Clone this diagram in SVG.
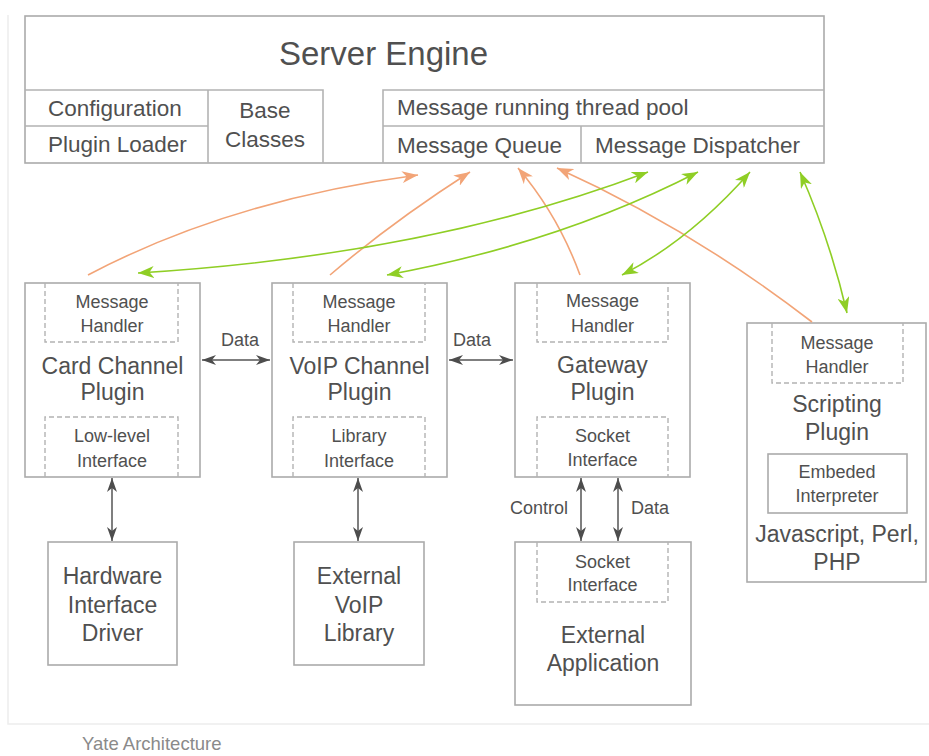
<svg xmlns="http://www.w3.org/2000/svg" width="929" height="756" viewBox="0 0 929 756">
  <style>
    text { font-family: "Liberation Sans", Arial, sans-serif; fill: #505050; }
    .title { font-size: 33px; text-anchor: middle; }
    .row { font-size: 22.5px; }
    .mid { text-anchor: middle; }
    .big { font-size: 23px; text-anchor: middle; }
    .small { font-size: 18px; text-anchor: middle; }
    .lbl { font-size: 18px; }
    .caption { font-size: 18.5px; fill: #8a8a8a; }
    .box { fill: #fff; stroke: #ababab; stroke-width: 1.6; }
    .rule { fill: none; stroke: #b3b3b3; stroke-width: 1.6; }
    .dash { fill: none; stroke: #b3b3b3; stroke-width: 1.4; stroke-dasharray: 5 3; }
    .frame { fill: none; stroke: #ededed; stroke-width: 1.5; }
    .gray { fill: none; stroke: #555; stroke-width: 1.5; marker-start: url(#ah-gray); marker-end: url(#ah-gray); }
    .orange { fill: none; stroke: #f2a477; stroke-width: 1.6; marker-end: url(#ah-orange); }
    .green { fill: none; stroke: #8fce25; stroke-width: 1.6; marker-start: url(#ah-green); marker-end: url(#ah-green); }
  </style>
  <defs>
    <marker id="ah-gray" viewBox="0 0 14 10" refX="14" refY="5" markerWidth="14" markerHeight="10" markerUnits="userSpaceOnUse" orient="auto-start-reverse">
      <path d="M0,0 L14,5 L0,10 L4,5 z" fill="#4d4d4d"/>
    </marker>
    <marker id="ah-orange" viewBox="0 0 16 12" refX="16" refY="6" markerWidth="16" markerHeight="12" markerUnits="userSpaceOnUse" orient="auto-start-reverse">
      <path d="M0,0 L16,6 L0,12 L4.5,6 z" fill="#f2a477"/>
    </marker>
    <marker id="ah-green" viewBox="0 0 16 12" refX="16" refY="6" markerWidth="16" markerHeight="12" markerUnits="userSpaceOnUse" orient="auto-start-reverse">
      <path d="M0,0 L16,6 L0,12 L4.5,6 z" fill="#8fce25"/>
    </marker>
  </defs>

  <rect width="929" height="756" fill="#fff"/>
  <!-- page frame and caption -->
  <path class="frame" d="M8,15 V724 H929"/>
  <text class="caption" x="82" y="750">Yate Architecture</text>

  <!-- Server Engine -->
  <g id="server-engine">
    <rect class="box" x="25" y="16" width="799" height="147"/>
    <path class="rule" d="M25,90 H323 V163 M208,90 V163 M25,126 H208"/>
    <path class="rule" d="M383,163 V90 H824 M383,126 H824 M581,126 V163"/>
    <text class="title" x="383.5" y="65">Server Engine</text>
    <text class="row" x="48" y="116">Configuration</text>
    <text class="row" x="48" y="152">Plugin Loader</text>
    <text class="row mid" x="265" y="118">Base</text>
    <text class="row mid" x="265" y="147">Classes</text>
    <text class="row" x="397" y="115">Message running thread pool</text>
    <text class="row" x="397" y="153">Message Queue</text>
    <text class="row" x="595" y="153">Message Dispatcher</text>
  </g>

  <!-- Card Channel Plugin -->
  <g id="card-channel">
    <rect class="box" x="25" y="283" width="175" height="194"/>
    <path class="dash" d="M45,283 V342 H178 V283 M45,477 V417 H178 V477"/>
    <text class="small" x="112" y="308">Message</text>
    <text class="small" x="112" y="332">Handler</text>
    <text class="big" x="112.5" y="374">Card Channel</text>
    <text class="big" x="112.5" y="400">Plugin</text>
    <text class="small" x="112" y="442">Low-level</text>
    <text class="small" x="112" y="467">Interface</text>
  </g>

  <!-- VoIP Channel Plugin -->
  <g id="voip-channel">
    <rect class="box" x="272" y="283" width="175" height="194"/>
    <path class="dash" d="M293,283 V342 H425 V283 M293,477 V417 H425 V477"/>
    <text class="small" x="359" y="308">Message</text>
    <text class="small" x="359" y="332">Handler</text>
    <text class="big" x="359.5" y="374">VoIP Channel</text>
    <text class="big" x="359.5" y="400">Plugin</text>
    <text class="small" x="359" y="442">Library</text>
    <text class="small" x="359" y="467">Interface</text>
  </g>

  <!-- Gateway Plugin -->
  <g id="gateway">
    <rect class="box" x="515" y="283" width="175" height="194"/>
    <path class="dash" d="M537,283 V342 H668 V283 M537,477 V417 H668 V477"/>
    <text class="small" x="602.5" y="307">Message</text>
    <text class="small" x="602.5" y="332">Handler</text>
    <text class="big" x="602.5" y="373">Gateway</text>
    <text class="big" x="602.5" y="400">Plugin</text>
    <text class="small" x="602.5" y="442">Socket</text>
    <text class="small" x="602.5" y="466">Interface</text>
  </g>

  <!-- Scripting Plugin -->
  <g id="scripting">
    <rect class="box" x="747" y="323" width="179" height="259"/>
    <path class="dash" d="M772,323 V383 H903 V323"/>
    <rect class="box" x="768" y="454" width="139" height="59"/>
    <text class="small" x="837" y="349">Message</text>
    <text class="small" x="837" y="373">Handler</text>
    <text class="big" x="837" y="412">Scripting</text>
    <text class="big" x="837" y="440">Plugin</text>
    <text class="small" x="837" y="478">Embeded</text>
    <text class="small" x="837" y="502">Interpreter</text>
    <text class="big" x="837" y="542">Javascript, Perl,</text>
    <text class="big" x="837" y="570">PHP</text>
  </g>

  <!-- Hardware Interface Driver -->
  <g id="hardware-driver">
    <rect class="box" x="48" y="542" width="129" height="123"/>
    <text class="big" x="112.5" y="584">Hardware</text>
    <text class="big" x="112.5" y="612.5">Interface</text>
    <text class="big" x="112.5" y="641">Driver</text>
  </g>

  <!-- External VoIP Library -->
  <g id="voip-library">
    <rect class="box" x="294" y="542" width="130" height="123"/>
    <text class="big" x="359" y="584">External</text>
    <text class="big" x="359" y="612.5">VoIP</text>
    <text class="big" x="359" y="641">Library</text>
  </g>

  <!-- External Application -->
  <g id="external-app">
    <rect class="box" x="515" y="542" width="176" height="163"/>
    <path class="dash" d="M537,542 V602 H668 V542"/>
    <text class="small" x="602.5" y="568">Socket</text>
    <text class="small" x="602.5" y="591">Interface</text>
    <text class="big" x="603" y="643">External</text>
    <text class="big" x="603" y="671">Application</text>
  </g>

  <!-- Connectors -->
  <g id="connectors">
    <!-- plugins post messages to the queue -->
    <path class="orange" d="M88,275 Q230,200 418,175"/>
    <path class="orange" d="M330,275 Q392,222 470,172"/>
    <path class="orange" d="M580,275 Q558,215 518,168"/>
    <path class="orange" d="M812,322 Q690,228 557,168"/>
    <!-- dispatcher delivers to the message handlers -->
    <path class="green" d="M138,273 Q430,255 648,172"/>
    <path class="green" d="M387,275 Q560,243 698,172"/>
    <path class="green" d="M622,275 Q690,240 750,172"/>
    <path class="green" d="M847,313 Q830,240 800,172"/>
    <!-- data paths between plugins -->
    <path class="gray" d="M202,360 H270"/>
    <path class="gray" d="M449,360 H513"/>
    <!-- links to external components -->
    <path class="gray" d="M112,478 V541"/>
    <path class="gray" d="M358,478 V541"/>
    <path class="gray" d="M581,478 V541"/>
    <path class="gray" d="M618,478 V541"/>
    <text class="lbl mid" x="240" y="346">Data</text>
    <text class="lbl mid" x="472" y="346">Data</text>
    <text class="lbl" x="568" y="514" text-anchor="end">Control</text>
    <text class="lbl" x="631" y="514">Data</text>
  </g>
</svg>
